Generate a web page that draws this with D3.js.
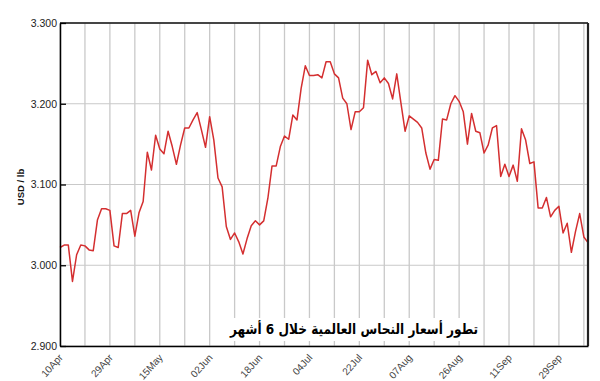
<!DOCTYPE html>
<html>
<head>
<meta charset="utf-8">
<script src="https://cdn.jsdelivr.net/npm/d3@7"></script>
<style>
  html, body { margin: 0; padding: 0; background: #fff; }
  svg { display: block; }
</style>
</head>
<body>
<div id="chart"></div>
<script>
// ---- data (copper price, USD/lb, one value per trading day) ----
const prices = [
  3.022, 3.025, 3.025, 2.980, 3.013, 3.025, 3.024, 3.019, 3.018, 3.056,
  3.070, 3.070, 3.068, 3.024, 3.022, 3.064, 3.064, 3.068, 3.036, 3.065,
  3.079, 3.140, 3.118, 3.161, 3.144, 3.138, 3.166, 3.147, 3.125, 3.149,
  3.170, 3.170, 3.180, 3.189, 3.168, 3.146, 3.184, 3.155, 3.108, 3.097,
  3.048, 3.032, 3.040, 3.029, 3.014, 3.033, 3.049, 3.055, 3.050, 3.055,
  3.083, 3.123, 3.123, 3.147, 3.160, 3.156, 3.186, 3.180, 3.219, 3.247,
  3.235, 3.235, 3.236, 3.232, 3.252, 3.252, 3.237, 3.232, 3.207, 3.200,
  3.168, 3.190, 3.190, 3.195, 3.254, 3.236, 3.240, 3.226, 3.232, 3.225,
  3.206, 3.237, 3.201, 3.166, 3.185, 3.181, 3.177, 3.170, 3.139, 3.119,
  3.131, 3.130, 3.181, 3.180, 3.200, 3.210, 3.203, 3.190, 3.150, 3.188,
  3.166, 3.164, 3.139, 3.149, 3.170, 3.173, 3.110, 3.125, 3.110, 3.124,
  3.104, 3.169, 3.155, 3.126, 3.128, 3.071, 3.071, 3.084, 3.060, 3.068,
  3.073, 3.040, 3.052, 3.016, 3.042, 3.064, 3.035, 3.028
];
const dateLabels = ["10Apr", "29Apr", "15May", "02Jun", "18Jun", "04Jul",
                    "22Jul", "07Aug", "26Aug", "11Sep", "29Sep"];
const labelIndexes = [0, 12, 24, 36, 48, 60, 72, 84, 96, 108, 120];
const gridIndexes = d3.range(0, 127, 6);
const yTicks = [2.9, 3.0, 3.1, 3.2, 3.3];
const yTitle = "USD / lb";
const chartTitle = "تطور أسعار النحاس العالمية خلال 6 أشهر";

// ---- layout ----
const W = 600, H = 381;
const plotL = 60, plotR = 588, plotT = 23, plotB = 346;

const svg = d3.select("#chart").append("svg")
  .attr("width", W).attr("height", H)
  .style("font-family", "'Liberation Sans', Arial, sans-serif");

const x = d3.scaleLinear().domain([0, prices.length - 1]).range([plotL, plotR]);
const y = d3.scaleLinear().domain([2.9, 3.3]).range([plotB, plotT]);

// horizontal gridlines
svg.append("g").selectAll("line").data(yTicks).join("line")
  .attr("x1", plotL).attr("x2", plotR)
  .attr("y1", d => y(d)).attr("y2", d => y(d))
  .attr("stroke", "#c9c9c9").attr("stroke-width", 1.2);

// vertical gridlines
svg.append("g").selectAll("line").data(gridIndexes).join("line")
  .attr("x1", d => x(d)).attr("x2", d => x(d))
  .attr("y1", plotT).attr("y2", plotB)
  .attr("stroke", "#c9c9c9").attr("stroke-width", 1.3);

// title background + title
const titleX = 354, titleY = 334;
svg.append("rect")
  .attr("x", 226).attr("y", 318).attr("width", 256).attr("height", 23)
  .attr("fill", "#fff");
svg.append("text")
  .attr("x", titleX).attr("y", titleY)
  .attr("text-anchor", "middle")
  .attr("textLength", 248)
  .attr("lengthAdjust", "spacingAndGlyphs")
  .style("font-family", "'DejaVu Sans', sans-serif")
  .style("font-weight", "bold")
  .style("font-size", "14.5px")
  .attr("fill", "#000")
  .text(chartTitle);

// price line
const line = d3.line().x((d, i) => x(i)).y(d => y(d));
svg.append("path").datum(prices)
  .attr("d", line)
  .attr("fill", "none")
  .attr("stroke", "#d42f30")
  .attr("stroke-width", 1.5)
  .attr("stroke-linejoin", "round");

// frame: top and right borders
svg.append("line").attr("x1", plotL).attr("x2", plotR).attr("y1", plotT).attr("y2", plotT)
  .attr("stroke", "#111").attr("stroke-width", 1.5);
svg.append("line").attr("x1", plotR).attr("x2", plotR).attr("y1", plotT).attr("y2", plotB)
  .attr("stroke", "#222").attr("stroke-width", 2.2);

// y axis
const yAxis = d3.axisLeft(y).tickValues(yTicks)
  .tickFormat(d3.format(".3f"))
  .tickSizeInner(-6).tickSizeOuter(0).tickPadding(3);
const gy = svg.append("g").attr("transform", `translate(${plotL},0)`).call(yAxis);
gy.select(".domain").attr("stroke", "#000").attr("stroke-width", 1.5);
gy.selectAll(".tick line").attr("stroke", "#000").attr("stroke-width", 1.3);
gy.selectAll(".tick text")
  .style("font-size", "10.5px")
  .style("font-family", "'Liberation Sans', Arial, sans-serif")
  .attr("fill", "#222");

// x axis
const xAxis = d3.axisBottom(x).tickValues(labelIndexes)
  .tickFormat((d, i) => dateLabels[i])
  .tickSize(0).tickSizeOuter(0);
const gx = svg.append("g").attr("transform", `translate(0,${plotB})`).call(xAxis);
gx.select(".domain").attr("stroke", "#000").attr("stroke-width", 1.5);
gx.selectAll(".tick text")
  .attr("text-anchor", "end")
  .attr("x", 0).attr("y", 0).attr("dy", 0)
  .attr("transform", "translate(3,12) rotate(-48)")
  .style("font-size", "10px")
  .style("font-family", "'Liberation Sans', Arial, sans-serif")
  .attr("fill", "#444");

// y title
svg.append("text")
  .attr("transform", "translate(24,187) rotate(-90)")
  .attr("text-anchor", "middle")
  .style("font-size", "9.5px")
  .style("font-weight", "bold")
  .attr("fill", "#111")
  .text(yTitle);
</script>
</body>
</html>
